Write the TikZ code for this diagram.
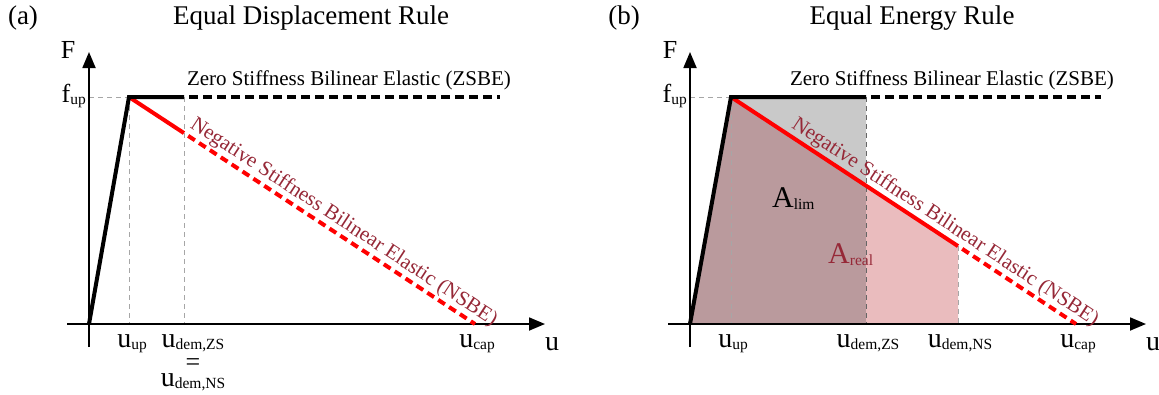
\documentclass[tikz,border=0pt]{standalone}
\usepackage{fontspec}
\setmainfont{Liberation Serif}
\usetikzlibrary{arrows.meta}
\definecolor{nsred}{RGB}{150,40,55}
\definecolor{fillgray}{RGB}{201,201,201}
\definecolor{fillbrown}{RGB}{186,154,157}
\definecolor{fillpink}{RGB}{234,188,190}
\newcommand{\lbsub}[1]{\raisebox{-2pt}{\fontsize{15.5}{16}\selectfont #1}}
\tikzset{
  axisline/.style={line width=1.8pt,-{Triangle[length=16pt,width=13pt]}},
  boldline/.style={line width=4pt,line join=miter},
  redline/.style={line width=4pt,red},
  bolddash/.style={line width=4pt,dash pattern=on 9pt off 5pt,dash phase=9pt},
  reddash/.style={line width=4pt,red,dash pattern=on 8pt off 5pt,dash phase=8pt},
  guide/.style={gray!70,line width=0.8pt,dash pattern=on 5pt off 4pt},
  guidedark/.style={gray!80!black,line width=0.8pt,dash pattern=on 5pt off 4pt},
  lab/.style={font=\fontsize{26}{28}\selectfont,inner sep=0pt},
  ulab/.style={font=\fontsize{28}{30}\selectfont,inner sep=0pt,anchor=base},
  alab/.style={font=\fontsize{30}{32}\selectfont,inner sep=0pt,anchor=base west},
  ttl/.style={font=\fontsize{27}{30}\selectfont,inner sep=0pt},
  note/.style={font=\fontsize{21}{24}\selectfont,inner sep=0pt},
}
\begin{document}
\begin{tikzpicture}[x=1pt,y=-1pt]
\useasboundingbox (0,0) rectangle (1159,394);
% ---------------- panel (a) ----------------
\coordinate (Oa) at (89,324);
\coordinate (YBa) at (89,347);
\coordinate (YTa) at (89,52);
\coordinate (XLa) at (67,324);
\coordinate (XRa) at (545,324);
\coordinate (Ca) at (129,97);
\coordinate (Fa) at (89,97);
\coordinate (Sa) at (184,97);
\coordinate (Ea) at (500,97);
\coordinate (Ra) at (184,133.1);
\coordinate (REa) at (475,324);
\coordinate (UPa) at (129,324);
\coordinate (UZa) at (184,324);

\draw[guide] (Fa) -- (Ca);
\draw[guide] (Ca) -- (UPa);
\draw[guide] (Sa) -- (UZa);
\draw[axisline] (YBa) -- (YTa);
\draw[axisline] (XLa) -- (XRa);
\draw[redline] (Ca) -- (Ra);
\draw[reddash] (Ra) -- (REa);
\draw[boldline] (Oa) -- (Ca) -- (Sa);
\draw[bolddash] (Sa) -- (Ea);

\node[ttl] (pa) at (23,18) {(a)};
\node[ttl] (ta) at (311,18) {Equal Displacement Rule};
\node[lab,anchor=base] (Fla) at (68,58) {F};
\node[lab,anchor=base east] (fa) at (86,102) {f\lbsub{up}};
\node[note] (za) at (349,80) {Zero Stiffness Bilinear Elastic (ZSBE)};
\path (Ca) -- (REa) node[pos=0.6,sloped,above=3pt,note,text=nsred] (na) {Negative Stiffness Bilinear Elastic (NSBE)};
\node[ulab] (ua1) at (132,347) {u\lbsub{up}};
\node[ulab] (ua2) at (193,347) {u\lbsub{dem,ZS}};
\node[lab,anchor=base] (ua3) at (193,370.5) {=};
\node[ulab] (ua4) at (193,386) {u\lbsub{dem,NS}};
\node[ulab] (ua5) at (477,347) {u\lbsub{cap}};
\node[ulab] (ua6) at (552,350) {u};

% ---------------- panel (b) ----------------
\coordinate (Ob) at (690,324);
\coordinate (YBb) at (690,347);
\coordinate (YTb) at (690,52);
\coordinate (XLb) at (668,324);
\coordinate (XRb) at (1146,324);
\coordinate (Cb) at (731,97);
\coordinate (Fb) at (690,97);
\coordinate (Sb) at (866,97);
\coordinate (Eb) at (1101,97);
\coordinate (Mb) at (866,185.8);
\coordinate (Rb) at (958,246.1);
\coordinate (REb) at (1076,324);
\coordinate (UPb) at (731,324);
\coordinate (UZb) at (866,324);
\coordinate (UNb) at (958,324);

\fill[fillgray] (Cb) -- (Sb) -- (Mb) -- cycle;
\fill[fillbrown] (Ob) -- (Cb) -- (Mb) -- (UZb) -- cycle;
\fill[fillpink] (Mb) -- (Rb) -- (UNb) -- (UZb) -- cycle;

\draw[guide] (Fb) -- (Cb);
\draw[guide] (Cb) -- (UPb);
\draw[guidedark] (Sb) -- (UZb);
\draw[guide] (Rb) -- (UNb);
\draw[axisline] (YBb) -- (YTb);
\draw[axisline] (XLb) -- (XRb);
\draw[redline] (Cb) -- (Rb);
\draw[reddash] (Rb) -- (REb);
\draw[boldline] (Ob) -- (Cb) -- (Sb);
\draw[bolddash] (Sb) -- (Eb);

\node[ttl] (pb) at (624,18) {(b)};
\node[ttl] (tb) at (912,18) {Equal Energy Rule};
\node[lab,anchor=base] (Flb) at (670,58) {F};
\node[lab,anchor=base east] (fb) at (687,102) {f\lbsub{up}};
\node[note] (zb) at (952,80) {Zero Stiffness Bilinear Elastic (ZSBE)};
\path (Cb) -- (REb) node[pos=0.6,sloped,above=3pt,note,text=nsred] (nb) {Negative Stiffness Bilinear Elastic (NSBE)};
\node[alab] (al) at (772,207) {A\lbsub{lim}};
\node[alab,text=nsred] (ar) at (828,263) {A\lbsub{real}};
\node[ulab] (ub1) at (733,347) {u\lbsub{up}};
\node[ulab] (ub2) at (868,347) {u\lbsub{dem,ZS}};
\node[ulab] (ub3) at (960,347) {u\lbsub{dem,NS}};
\node[ulab] (ub4) at (1078,347) {u\lbsub{cap}};
\node[ulab] (ub5) at (1153,350) {u};
\end{tikzpicture}
\end{document}
